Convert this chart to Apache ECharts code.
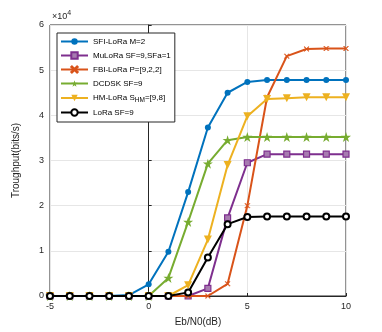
<!DOCTYPE html>
<html>
<head>
<meta charset="utf-8">
<script src="https://cdn.jsdelivr.net/npm/echarts@6/dist/echarts.min.js"></script>
<style>
  html, body { margin: 0; padding: 0; background: #fff; }
  #chart { width: 382px; height: 332px; }
</style>
</head>
<body>
<div id="chart"></div>
<script>
var ebn0 = [-5, -4, -3, -2, -1, 0, 1, 2, 3, 4, 5, 6, 7, 8, 9, 10];
var seriesNames = ['SFI-LoRa M=2', 'MuLoRa SF=9,SFa=1', 'FBI-LoRa P=[9,2,2]', 'DCDSK SF=9', 'HM-LoRa', 'LoRa SF=9'];
var sfiLoRa = [0, 0, 0, 0, 200, 2600, 9800, 23000, 37300, 45000, 47400, 47800, 47800, 47800, 47800, 47800];
var muLoRa  = [0, 0, 0, 0, 0, 0, 0, 0, 1700, 17300, 29500, 31400, 31400, 31400, 31400, 31400];
var fbiLoRa = [0, 0, 0, 0, 0, 0, 0, 0, 0, 2700, 20000, 44000, 53100, 54700, 54800, 54800];
var dcdsk   = [0, 0, 0, 0, 0, 0, 4000, 16400, 29300, 34500, 35200, 35200, 35200, 35200, 35200, 35200];
var hmLoRa  = [0, 0, 0, 0, 0, 0, 0, 2400, 12500, 29000, 39800, 43600, 43800, 44000, 44000, 44000];
var loRa    = [0, 0, 0, 0, 0, 0, 0, 800, 8500, 15900, 17500, 17600, 17600, 17600, 17600, 17600];
var yTicks = [0, 1, 2, 3, 4, 5, 6];

var font = 'Liberation Sans, Arial, sans-serif';
var axisColor = '#262626';

function pairs(values) {
    return ebn0.map(function (x, i) { return [x, values[i]]; });
}

var starPath = 'path://M50,0L61.8,35.4L100,35.4L69.1,57.3L80.9,92.7L50,70.8L19.1,92.7L30.9,57.3L0,35.4L38.2,35.4Z';
var crossPath = 'path://M0,10L10,0L50,40L90,0L100,10L60,50L100,90L90,100L50,60L10,100L0,90L40,50Z';

var styles = [
    { color: '#0072BD', symbol: 'circle', size: 6, fill: '#0072BD', border: 0 },
    { color: '#7E2F8E', symbol: 'rect', size: 6, fill: '#a77bb0', border: 1.2 },
    { color: '#D95319', symbol: crossPath, size: 5, fill: '#D95319', border: 0.5 },
    { color: '#77AC30', symbol: starPath, size: 10, fill: '#77AC30', border: 0 },
    { color: '#EDB120', symbol: 'triangle', size: 8, fill: '#EDB120', border: 0, rotate: 180 },
    { color: '#000000', symbol: 'circle', size: 6, fill: '#ffffff', border: 2 }
];
var allData = [sfiLoRa, muLoRa, fbiLoRa, dcdsk, hmLoRa, loRa];

var series = allData.map(function (vals, k) {
    var s = styles[k];
    return {
        name: seriesNames[k],
        type: 'line',
        data: pairs(vals),
        symbol: s.symbol,
        symbolSize: s.size,
        symbolRotate: s.rotate || 0,
        showAllSymbol: true,
        lineStyle: { color: s.color, width: 2 },
        itemStyle: { color: s.fill, borderColor: s.color, borderWidth: s.border },
        z: 2 + (k === 5 ? 10 : k)
    };
});

var myChart = echarts.init(document.getElementById('chart'));

var option = {
    animation: false,
    backgroundColor: '#fff',
    grid: { left: 50, right: 36, top: 25, bottom: 36, show: true, borderColor: axisColor, borderWidth: 1, backgroundColor: '#fff' },
    legend: {
        orient: 'vertical',
        left: 57,
        top: 33,
        backgroundColor: '#fff',
        borderColor: axisColor,
        borderWidth: 1,
        borderRadius: 0,
        padding: [3, 4, 4, 3],
        itemGap: 3,
        itemWidth: 27,
        itemHeight: 8,
        data: seriesNames,
        textStyle: {
            fontFamily: font, fontSize: 8, color: '#000', lineHeight: 11,
            rich: { sub: { fontSize: 6.5, lineHeight: 11, padding: [5, 0, 0, 0], fontFamily: font, color: '#000' } }
        },
        formatter: function (name) {
            if (name === 'HM-LoRa') return 'HM-LoRa S{sub|HM}=[9,8]';
            return name;
        }
    },
    xAxis: {
        type: 'value',
        min: -5, max: 10, interval: 5,
        name: 'Eb/N0(dB)',
        nameLocation: 'middle',
        nameGap: 21,
        nameTextStyle: { fontFamily: font, fontSize: 10, color: axisColor },
        axisLine: { lineStyle: { color: axisColor } },
        axisTick: { inside: true, length: 3, lineStyle: { color: axisColor } },
        axisLabel: { fontFamily: font, fontSize: 9, color: axisColor, margin: 6 },
        splitLine: { show: true, lineStyle: { color: '#e6e6e6', width: 1 } }
    },
    yAxis: {
        type: 'value',
        min: 0, max: 60000, interval: 10000,
        name: 'Troughput(bits/s)',
        nameLocation: 'middle',
        nameGap: 29,
        nameTextStyle: { fontFamily: font, fontSize: 10, color: axisColor },
        axisLine: { show: true, lineStyle: { color: axisColor } },
        axisTick: { show: true, inside: true, length: 3, lineStyle: { color: axisColor } },
        axisLabel: {
            fontFamily: font, fontSize: 9, color: axisColor, margin: 6,
            formatter: function (v) { return String(yTicks[Math.round(v / 10000)]); }
        },
        splitLine: { show: true, lineStyle: { color: '#e6e6e6', width: 1 } }
    },
    graphic: [{
        type: 'text',
        left: 52,
        top: 10,
        style: {
            text: '×10{sup|4}',
            fontFamily: font,
            fontSize: 9,
            fill: axisColor,
            rich: { sup: { fontSize: 7, padding: [0, 0, 6, 0], fontFamily: font, fill: axisColor } }
        }
    }],
    series: series
};

myChart.setOption(option);
</script>
</body>
</html>
